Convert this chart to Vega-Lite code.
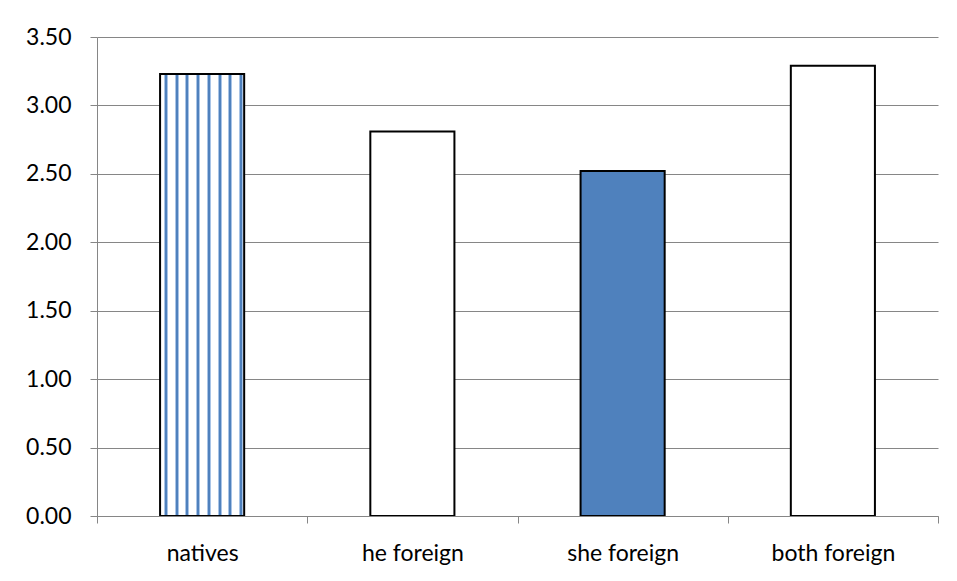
{
  "$schema": "https://vega.github.io/schema/vega-lite/v6.json",
  "autosize": "none",
  "padding": {"left": 97, "top": 37, "right": 19, "bottom": 65},
  "width": 841,
  "height": 479,
  "background": "white",
  "config": {
    "view": {"stroke": null},
    "font": "Lato"
  },
  "data": {
    "values": [
      {"group": "natives", "value": 3.23},
      {"group": "he foreign", "value": 2.81},
      {"group": "she foreign", "value": 2.52},
      {"group": "both foreign", "value": 3.29}
    ]
  },
  "mark": {
    "type": "bar",
    "width": {"band": 0.4},
    "stroke": "#000000",
    "strokeWidth": 2
  },
  "encoding": {
    "x": {
      "field": "group",
      "type": "nominal",
      "sort": null,
      "scale": {"paddingInner": 0, "paddingOuter": 0},
      "axis": {
        "title": null,
        "labelAngle": 0,
        "tickBand": "extent",
        "tickSize": 7,
        "tickColor": "#868686",
        "domainColor": "#868686",
        "labelFont": "Lato",
        "labelFontSize": 23,
        "labelColor": "#000000",
        "labelPadding": 19,
        "zindex": 1
      }
    },
    "y": {
      "field": "value",
      "type": "quantitative",
      "scale": {"domain": [0, 3.5], "nice": false},
      "axis": {
        "title": null,
        "values": [0, 0.5, 1, 1.5, 2, 2.5, 3, 3.5],
        "format": ".2f",
        "grid": true,
        "gridColor": "#868686",
        "gridWidth": 1,
        "tickSize": 7,
        "tickColor": "#868686",
        "domainColor": "#868686",
        "labelFont": "Lato",
        "labelFontSize": 23,
        "labelColor": "#000000",
        "labelPadding": 19,
        "zindex": 0
      }
    },
    "fill": {
      "condition": [
        {
          "test": "datum.group === 'natives'",
          "value": {
            "gradient": "linear",
            "x1": 0, "y1": 0, "x2": 1, "y2": 0,
            "stops": [
              {"offset": 0, "color": "#ffffff"},
              {"offset": 0.044, "color": "#ffffff"}, {"offset": 0.044, "color": "#a9c4e6"},
              {"offset": 0.056, "color": "#a9c4e6"}, {"offset": 0.056, "color": "#4f81bd"},
              {"offset": 0.080, "color": "#4f81bd"}, {"offset": 0.080, "color": "#a9c4e6"},
              {"offset": 0.092, "color": "#a9c4e6"}, {"offset": 0.092, "color": "#ffffff"},
              {"offset": 0.172, "color": "#ffffff"}, {"offset": 0.172, "color": "#a9c4e6"},
              {"offset": 0.184, "color": "#a9c4e6"}, {"offset": 0.184, "color": "#4f81bd"},
              {"offset": 0.208, "color": "#4f81bd"}, {"offset": 0.208, "color": "#a9c4e6"},
              {"offset": 0.220, "color": "#a9c4e6"}, {"offset": 0.220, "color": "#ffffff"},
              {"offset": 0.300, "color": "#ffffff"}, {"offset": 0.300, "color": "#a9c4e6"},
              {"offset": 0.312, "color": "#a9c4e6"}, {"offset": 0.312, "color": "#4f81bd"},
              {"offset": 0.336, "color": "#4f81bd"}, {"offset": 0.336, "color": "#a9c4e6"},
              {"offset": 0.348, "color": "#a9c4e6"}, {"offset": 0.348, "color": "#ffffff"},
              {"offset": 0.428, "color": "#ffffff"}, {"offset": 0.428, "color": "#a9c4e6"},
              {"offset": 0.440, "color": "#a9c4e6"}, {"offset": 0.440, "color": "#4f81bd"},
              {"offset": 0.464, "color": "#4f81bd"}, {"offset": 0.464, "color": "#a9c4e6"},
              {"offset": 0.476, "color": "#a9c4e6"}, {"offset": 0.476, "color": "#ffffff"},
              {"offset": 0.556, "color": "#ffffff"}, {"offset": 0.556, "color": "#a9c4e6"},
              {"offset": 0.568, "color": "#a9c4e6"}, {"offset": 0.568, "color": "#4f81bd"},
              {"offset": 0.592, "color": "#4f81bd"}, {"offset": 0.592, "color": "#a9c4e6"},
              {"offset": 0.604, "color": "#a9c4e6"}, {"offset": 0.604, "color": "#ffffff"},
              {"offset": 0.684, "color": "#ffffff"}, {"offset": 0.684, "color": "#a9c4e6"},
              {"offset": 0.696, "color": "#a9c4e6"}, {"offset": 0.696, "color": "#4f81bd"},
              {"offset": 0.720, "color": "#4f81bd"}, {"offset": 0.720, "color": "#a9c4e6"},
              {"offset": 0.732, "color": "#a9c4e6"}, {"offset": 0.732, "color": "#ffffff"},
              {"offset": 0.812, "color": "#ffffff"}, {"offset": 0.812, "color": "#a9c4e6"},
              {"offset": 0.824, "color": "#a9c4e6"}, {"offset": 0.824, "color": "#4f81bd"},
              {"offset": 0.848, "color": "#4f81bd"}, {"offset": 0.848, "color": "#a9c4e6"},
              {"offset": 0.860, "color": "#a9c4e6"}, {"offset": 0.860, "color": "#ffffff"},
              {"offset": 0.940, "color": "#ffffff"}, {"offset": 0.940, "color": "#a9c4e6"},
              {"offset": 0.952, "color": "#a9c4e6"}, {"offset": 0.952, "color": "#4f81bd"},
              {"offset": 0.976, "color": "#4f81bd"}, {"offset": 0.976, "color": "#a9c4e6"},
              {"offset": 0.988, "color": "#a9c4e6"}, {"offset": 0.988, "color": "#ffffff"},
              {"offset": 1, "color": "#ffffff"}
            ]
          }
        },
        {"test": "datum.group === 'she foreign'", "value": "#4f81bd"}
      ],
      "value": "#ffffff"
    }
  }
}
